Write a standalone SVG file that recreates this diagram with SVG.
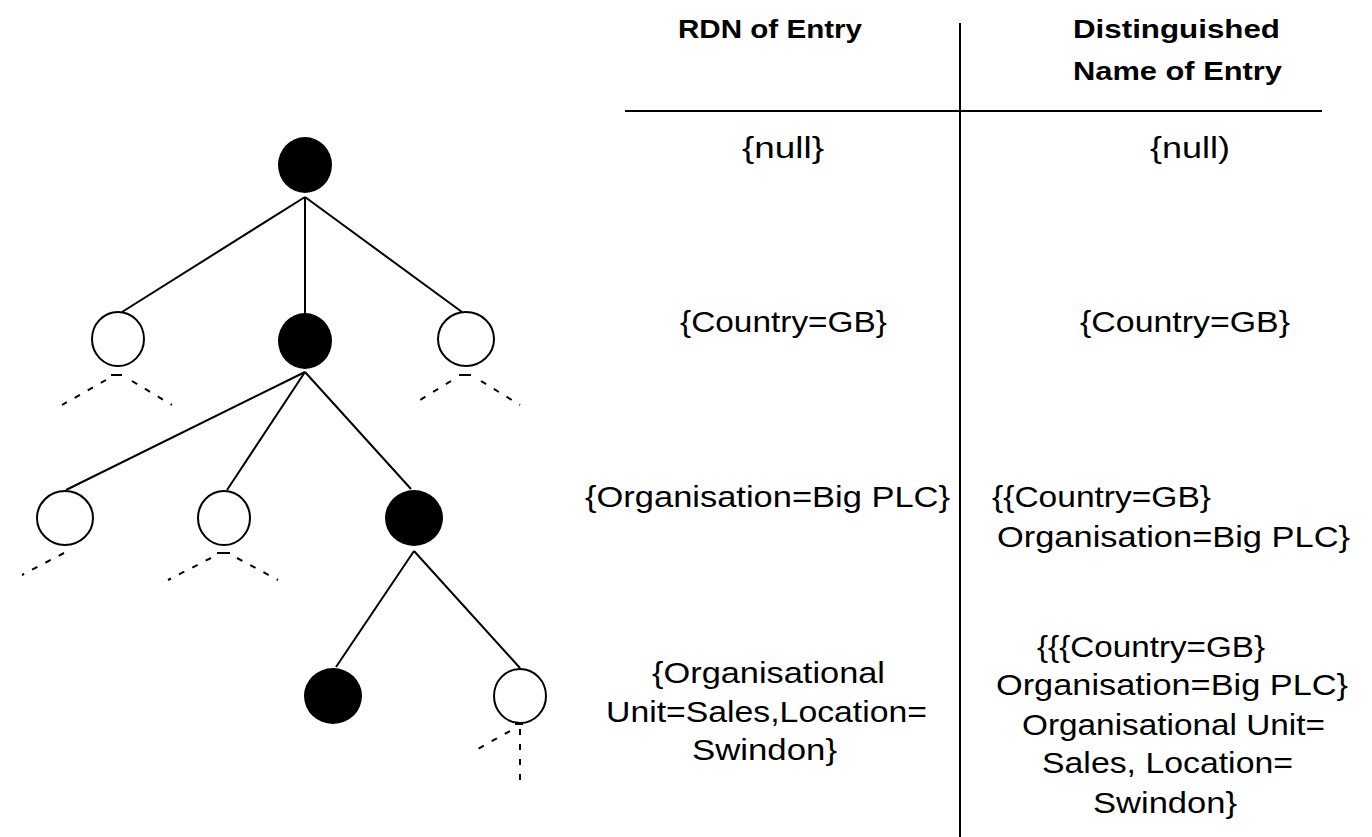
<svg xmlns="http://www.w3.org/2000/svg" width="1372" height="837" viewBox="0 0 1372 837">
  <style>
    .filled { fill: #000; }
    .open { fill: #fff; stroke: #000; stroke-width: 2; }
    .edge { stroke: #000; stroke-width: 2; fill: none; }
    .stub { stroke: #000; stroke-width: 2; fill: none; stroke-dasharray: 6 9; }
    .tick { stroke: #000; stroke-width: 2; fill: none; }
    .rule { stroke: #000; stroke-width: 2; fill: none; }
    .head { font-family: "Liberation Sans", Arial, sans-serif; font-weight: bold; font-size: 25px; fill: #000; }
    .cell { font-family: "Liberation Sans", Arial, sans-serif; font-size: 29px; fill: #000; }
  </style>
  <rect width="1372" height="837" fill="#fff"/>

  <!-- tree connectors and dashed stubs to further entries -->
  <g id="connectors">
    <path class="edge" d="M305 197 L122 312 M305 197 L305 313 M305 197 L462 312"/>
    <path class="edge" d="M305 372 L66 490 M305 372 L227 490 M305 372 L411 489"/>
    <path class="edge" d="M414 551 L336 667 M414 551 L520 668"/>
    <!-- stubs under the left level-2 entry -->
    <path class="tick" d="M111 375 H122"/>
    <path class="stub" d="M106 380 L62 405"/>
    <path class="stub" d="M132 381 L172 405"/>
    <!-- stubs under the right level-2 entry -->
    <path class="tick" d="M459 375 H471"/>
    <path class="stub" d="M451 381 L420 400"/>
    <path class="stub" d="M481 381 L520 405"/>
    <!-- stubs under the left level-3 entry -->
    <path class="stub" d="M64 553 L22 575"/>
    <!-- stubs under the middle level-3 entry -->
    <path class="tick" d="M217 553 H230"/>
    <path class="stub" d="M211 558 L168 580"/>
    <path class="stub" d="M237 558 L278 580"/>
    <!-- stubs under the right level-4 entry -->
    <path class="tick" d="M515 724 H523"/>
    <path class="stub" d="M520 729 V785"/>
    <path class="stub" d="M510 731 L476 750"/>
  </g>

  <!-- directory entries -->
  <g id="root"><ellipse class="filled" cx="305" cy="165" rx="27" ry="28"/></g>
  <g id="l2-left"><ellipse class="open" cx="118" cy="339" rx="26" ry="27"/></g>
  <g id="l2-country"><ellipse class="filled" cx="305" cy="341" rx="27" ry="28"/></g>
  <g id="l2-right"><ellipse class="open" cx="466" cy="339" rx="28" ry="27"/></g>
  <g id="l3-left"><ellipse class="open" cx="65" cy="518" rx="28" ry="27"/></g>
  <g id="l3-mid"><ellipse class="open" cx="224" cy="518" rx="26" ry="27"/></g>
  <g id="l3-organisation"><ellipse class="filled" cx="414" cy="518" rx="29" ry="28"/></g>
  <g id="l4-unit"><ellipse class="filled" cx="333" cy="696" rx="29" ry="28"/></g>
  <g id="l4-right"><ellipse class="open" cx="520" cy="696" rx="26" ry="27"/></g>

  <!-- name table -->
  <g id="table">
    <path class="rule" d="M625 111 H1322"/>
    <path class="rule" d="M960 23 V837"/>

    <text class="head" x="678" y="38" textLength="184" lengthAdjust="spacingAndGlyphs">RDN of Entry</text>
    <text class="head" x="1073" y="38" textLength="207" lengthAdjust="spacingAndGlyphs">Distinguished</text>
    <text class="head" x="1073" y="80" textLength="209" lengthAdjust="spacingAndGlyphs">Name of Entry</text>

    <text class="cell" x="742" y="158" textLength="82" lengthAdjust="spacingAndGlyphs">{null}</text>
    <text class="cell" x="1150" y="158" textLength="80" lengthAdjust="spacingAndGlyphs">{null)</text>

    <text class="cell" x="680" y="332" textLength="207" lengthAdjust="spacingAndGlyphs">{Country=GB}</text>
    <text class="cell" x="1080" y="332" textLength="210" lengthAdjust="spacingAndGlyphs">{Country=GB}</text>

    <text class="cell" x="585" y="507" textLength="365" lengthAdjust="spacingAndGlyphs">{Organisation=Big PLC}</text>
    <text class="cell" x="992" y="507" textLength="219" lengthAdjust="spacingAndGlyphs">{{Country=GB}</text>
    <text class="cell" x="997" y="547" textLength="353" lengthAdjust="spacingAndGlyphs">Organisation=Big PLC}</text>

    <text class="cell" x="652" y="683" textLength="233" lengthAdjust="spacingAndGlyphs">{Organisational</text>
    <text class="cell" x="606" y="722" textLength="321" lengthAdjust="spacingAndGlyphs">Unit=Sales,Location=</text>
    <text class="cell" x="692" y="760" textLength="145" lengthAdjust="spacingAndGlyphs">Swindon}</text>

    <text class="cell" x="1037" y="657" textLength="228" lengthAdjust="spacingAndGlyphs">{{{Country=GB}</text>
    <text class="cell" x="996" y="695" textLength="352" lengthAdjust="spacingAndGlyphs">Organisation=Big PLC}</text>
    <text class="cell" x="1022" y="735" textLength="303" lengthAdjust="spacingAndGlyphs">Organisational Unit=</text>
    <text class="cell" x="1042" y="773" textLength="251" lengthAdjust="spacingAndGlyphs">Sales, Location=</text>
    <text class="cell" x="1093" y="813" textLength="144" lengthAdjust="spacingAndGlyphs">Swindon}</text>
  </g>
</svg>
